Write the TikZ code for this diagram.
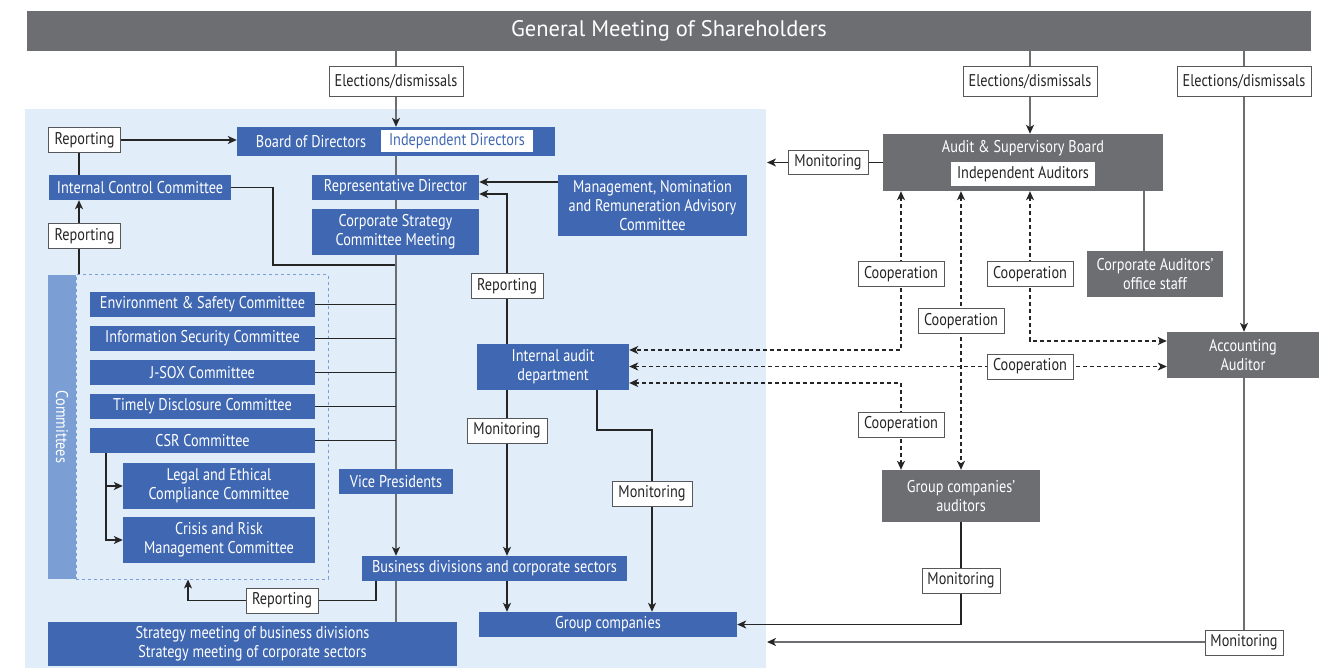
\documentclass[tikz,border=0pt]{standalone}
\usepackage{fontspec}
\setmainfont{PT Sans}[FakeStretch=0.84]
\newfontfamily\titlefamily{PT Sans}
\usepackage{xcolor}
\definecolor{Corporate Blue}{HTML}{4068B2}
\definecolor{Steel Gray}{HTML}{6D6E71}
\definecolor{Pale Sky}{HTML}{E1EDF9}
\definecolor{Soft Blue}{HTML}{7B9FD5}
\definecolor{Ink}{HTML}{262526}
\colorlet{cBlue}{Corporate Blue}
\colorlet{cGray}{Steel Gray}
\colorlet{cSky}{Pale Sky}
\colorlet{cStrip}{Soft Blue}
\colorlet{cInk}{Ink}
\newcommand\boxfont{\fontsize{17}{19}\selectfont}
\newcommand\titlefont{\titlefamily\fontsize{22.5}{25}\selectfont}
\usepackage{tikz}
\usetikzlibrary{calc, arrows.meta}
\pgfdeclarelayer{sky}
\pgfdeclarelayer{wires}
\pgfsetlayers{sky,wires,main}
\tikzset{
	line width = 1.3pt,
	>={Stealth[length=9pt, width=8pt, inset=2.5pt, color=cInk]},
	font = \boxfont,
	unit/.style={
		fill=cBlue,
		text=white,
		inner sep=0pt,
		align=center
	},
	organ/.style={
		fill=cGray,
		text=white,
		inner sep=0pt,
		align=center
	},
	tag/.style={
		draw=cGray!80!black,
		fill=white,
		text=cInk,
		line width=1pt,
		inner sep=0pt,
		minimum height=25pt
	},
	link/.style={
		draw=cInk,
		line width=1.3pt
	},
	spine/.style={
		draw=cGray,
		line width=1.5pt
	},
	coop/.style={
		draw=cInk,
		line width=1.1pt,
		dash pattern=on 4pt off 3pt
	}
}

\begin{document}
\begin{tikzpicture}[x=1pt, y=-1pt]
		\useasboundingbox (0,0) rectangle (1328,668);

		% shareholders and elections
		\node[organ, minimum width=1284pt, minimum height=40pt, font=\titlefont] (gms) at (669,31) {General Meeting of Shareholders};
		\node[tag, minimum width=134pt, minimum height=30pt] (el1) at (396,82) {Elections/dismissals};
		\node[tag, minimum width=134pt, minimum height=30pt] (el2) at (1030,82) {Elections/dismissals};
		\node[tag, minimum width=134pt, minimum height=30pt] (el3) at (1244,82) {Elections/dismissals};

		% company side
		\node[unit, minimum width=318pt, minimum height=29pt] (bod) at (396,141.5) {};
		\node[text=white] (bodtxt) at (311,141.5) {Board of Directors};
		\node[fill=white, text=cBlue, inner sep=0pt, minimum width=152pt, minimum height=22pt] (indir) at (457,141.5) {Independent Directors};
		\node[tag, minimum width=72pt] (rep1) at (84.5,140) {Reporting};
		\node[unit, minimum width=182pt, minimum height=25pt] (icc) at (140,187.5) {Internal Control Committee};
		\node[tag, minimum width=72pt] (rep2) at (84.5,236.5) {Reporting};
		\node[unit, minimum width=167pt, minimum height=25pt] (repdir) at (395.5,187.5) {Representative Director};
		\node[unit, minimum width=167pt, minimum height=46pt] (csm) at (395.5,232) {Corporate Strategy\\Committee Meeting};
		\node[unit, minimum width=189pt, minimum height=61pt] (mnr) at (652.5,205.5) {Management, Nomination\\and Remuneration Advisory\\Committee};
		\node[tag, minimum width=72pt] (rep3) at (507,286.5) {Reporting};

		\node[rotate=-90, fill=cStrip, text=white, inner sep=0pt, minimum width=304pt, minimum height=28pt] (cstrip) at (62,427) {Committees};
		\node[unit, minimum width=225pt, minimum height=25pt] (env) at (202.5,304.5) {Environment \& Safety Committee};
		\node[unit, minimum width=225pt, minimum height=25pt] (info) at (202.5,338.5) {Information Security Committee};
		\node[unit, minimum width=225pt, minimum height=25pt] (jsox) at (202.5,372.5) {J-SOX Committee};
		\node[unit, minimum width=225pt, minimum height=25pt] (timely) at (202.5,406.5) {Timely Disclosure Committee};
		\node[unit, minimum width=225pt, minimum height=25pt] (csr) at (202.5,440.5) {CSR Committee};
		\node[unit, minimum width=192pt, minimum height=46pt] (legal) at (219,486) {Legal and Ethical\\Compliance Committee};
		\node[unit, minimum width=192pt, minimum height=46pt] (crisis) at (219,540) {Crisis and Risk\\Management Committee};

		\node[unit, minimum width=114pt, minimum height=25pt] (vp) at (396,481.5) {Vice Presidents};
		\node[unit, minimum width=265pt, minimum height=25pt] (bdcs) at (494.5,568.5) {Business divisions and corporate sectors};
		\node[tag, minimum width=72pt] (rep4) at (282,600.5) {Reporting};
		\node[unit, minimum width=409pt, minimum height=44pt] (smeet) at (252.5,644) {Strategy meeting of business divisions\\Strategy meeting of corporate sectors};
		\node[unit, minimum width=152pt, minimum height=46pt] (iad) at (553,367) {Internal audit\\department};
		\node[tag, minimum width=80pt] (mon1) at (507,430.5) {Monitoring};
		\node[tag, minimum width=80pt] (mon2) at (652,493.5) {Monitoring};
		\node[unit, minimum width=258pt, minimum height=25pt] (gc) at (608,624.5) {Group companies};

		% auditor side
		\node[organ, minimum width=280pt, minimum height=57pt] (asb) at (1023,162.5) {};
		\node[text=white] (asbtxt) at (1023,148) {Audit \& Supervisory Board};
		\node[fill=white, text=cInk, inner sep=0pt, minimum width=144pt, minimum height=24pt] (indaud) at (1023,174.5) {Independent Auditors};
		\node[tag, minimum width=80pt, minimum height=24pt] (mon3) at (828,162.5) {Monitoring};
		\node[organ, minimum width=136pt, minimum height=46pt] (cas) at (1155,274) {Corporate Auditors’\\office staff};
		\node[organ, minimum width=152pt, minimum height=46pt] (acc) at (1243,355) {Accounting\\Auditor};
		\node[organ, minimum width=158pt, minimum height=52pt] (gca) at (961,496) {Group companies’\\auditors};
		\node[tag, minimum width=86pt] (coopA) at (901,274.5) {Cooperation};
		\node[tag, minimum width=86pt] (coopB) at (961,321.5) {Cooperation};
		\node[tag, minimum width=86pt] (coopC) at (1030,274.5) {Cooperation};
		\node[tag, minimum width=86pt] (coopD) at (1030,366.5) {Cooperation};
		\node[tag, minimum width=86pt] (coopE) at (901,424.5) {Cooperation};
		\node[tag, minimum width=78pt] (mon4) at (961,580.5) {Monitoring};
		\node[tag, minimum width=78pt] (mon5) at (1244,642.5) {Monitoring};

		\coordinate (skyTop) at (767,162.5);
		\coordinate (skyBot) at (767,642);

		\begin{pgfonlayer}{sky}
			\fill[cSky] (25,109) rectangle (766,668);
			\node[draw=cStrip, dashed, line width=1pt, inner sep=0pt, minimum width=252pt, minimum height=304pt] (cbox) at (202,427) {};
		\end{pgfonlayer}

		\begin{pgfonlayer}{wires}
			\draw[spine] (gms.south -| el1) -- (el1.north);
			\draw[spine] (gms.south -| el2) -- (el2.north);
			\draw[spine] (gms.south -| el3) -- (el3.north);
			\draw[spine, ->] (el1.south) -- (bod.north -| el1);
			\draw[spine, ->] (el2.south) -- (asb.north -| el2);
			\draw[spine, ->] (el3.south) -- (acc.north -| el3);

			% reporting chain on the left
			\draw[link, ->] (rep1.east) -- (bod.west |- rep1);
			\draw[link] (rep1.south -| 79,0) -- (icc.north -| 79,0);
			\draw[link, ->] (rep2.north -| 79,0) -- (icc.south -| 79,0);
			\draw[link] (cbox.north -| 79,0) -- (rep2.south -| 79,0);
			\draw[link] (icc.east) -| (273,265) -| (csm.south);

			\draw[spine, ->] (bod.south) -- (bdcs.north -| bod.south);
			\draw[spine] (bdcs.south -| bod.south) -- (smeet.north -| bod.south);
			\foreach \c in {env,info,jsox,timely,csr}
				\draw[link] (\c.east) -- (\c.east -| bod.south);
			\draw[link, ->] (csr.south -| 106,0) |- (legal.west);
			\draw[link, ->] (csr.south -| 106,0) |- (crisis.west);

			\draw[link, ->] (mnr.west |- 0,182) -- (repdir.east |- 0,182);
			\draw[link, ->] (iad.north -| rep3) |- (repdir.east |- 0,194);
			\draw[link, ->] (iad.south -| mon1) -- (bdcs.north -| mon1);
			\draw[link, ->] (iad.south -| 597,0) -- (597,430) -| (gc.north -| mon2);
			\draw[link, ->] (bdcs.south -| mon1) -- (gc.north -| mon1);
			\draw[link] (bdcs.south -| 376,0) |- (rep4.east);
			\draw[link, ->] (rep4.west) -| (cbox.south -| 188,0);

			% auditors
			\draw[link] (asb.west) -- (mon3.east);
			\draw[link, ->] (mon3.west) -- (skyTop);
			\draw[spine] (asb.south -| 1144,0) -- (cas.north -| 1144,0);
			\draw[coop, <->] (asb.south -| coopA) |- (iad.east |- 0,350);
			\draw[coop, <->] (asb.south -| coopB) -- (gca.north -| coopB);
			\draw[coop, <->] (asb.south -| coopC) |- (acc.west |- 0,341);
			\draw[coop, <->] (iad.east |- coopD) -- (acc.west |- coopD);
			\draw[coop, <->] (iad.east |- 0,383) -| (gca.north -| coopE);
			\draw[link, ->] (gca.south -| mon4) |- (gc.east);
			\draw[spine, ->] (acc.south -| mon5) |- (skyBot);
		\end{pgfonlayer}
\end{tikzpicture}
\end{document}
